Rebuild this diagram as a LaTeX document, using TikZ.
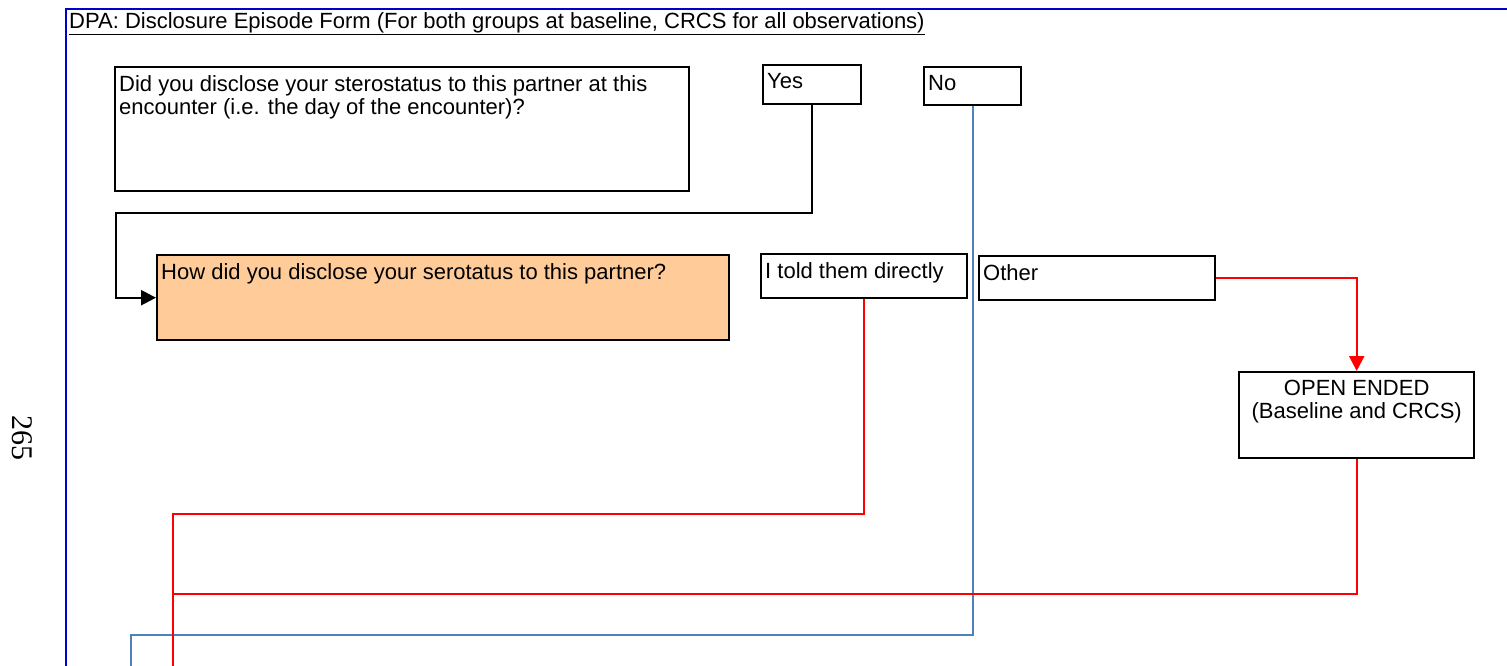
\documentclass[tikz,border=0pt]{standalone}
\usepackage{fontspec}
\setmainfont{Liberation Sans}
\newfontfamily\pagenumfont{Liberation Serif}
\usetikzlibrary{arrows.meta}
\definecolor{frameblue}{RGB}{0,0,204}
\definecolor{linkblue}{RGB}{79,129,189}
\definecolor{qorange}{RGB}{255,204,153}

\tikzset{
  formbox/.style={draw, line width=2.4pt, anchor=north west, inner sep=0pt},
  boxtext/.style={anchor=north west, align=left, inner xsep=5pt, inner ysep=9pt,
    font=\fontsize{22}{23}\selectfont},
  link/.style={line width=2.4pt},
}

\begin{document}
\begin{tikzpicture}[x=1pt, y=-1pt, >={Triangle[length=15pt,width=15pt]}]
\useasboundingbox (0,0) rectangle (1507,666);
\clip (0,0) rectangle (1507,666);

\draw [line width=2pt, frameblue] (66,670) |- (1510,9);

\node [anchor=north west, inner sep=0pt, font=\fontsize{22}{23}\selectfont] (title) at (69,12)
  {\underline{DPA: Disclosure Episode Form (For both groups at baseline, CRCS for all observations)}};

\node [rotate=-90, font=\pagenumfont\fontsize{30}{30}\selectfont] (pagenum) at (22,438) {265};

\foreach \n/\x/\y/\w/\h in {q1/114/66/574/124, yes/762/64/98/39, no/923/66/97/38,
                           told/760/253/206/44, other/978/255/236/44, open/1238/371/235/86}
  \node [formbox, minimum width=\w, minimum height=\h] (\n) at (\x,\y) {};

\node [formbox, fill=qorange, minimum width=572, minimum height=85] (q2) at (156,254) {};

\node [boxtext] (q1-text) at (q1.north west)
  {Did you disclose your sterostatus to this partner at this\\encounter (i.e. the day of the encounter)?};

\foreach \n/\l in {yes/Yes, no/No, q2/How did you disclose your serotatus to this partner?,
                   told/I told them directly, other/Other}
  \node [boxtext] (\n-text) at (\n.north west) {\l};

\node [boxtext, anchor=north, align=center] (open-text) at (open.north)
  {OPEN ENDED\\(Baseline and CRCS)};

\coordinate (no-end) at (131,670);
\coordinate (told-end) at (173,670);
\coordinate (open-end) at (173,670);

\draw [link, ->] (yes.south) |- (116,213) |- (q2.west);

\draw [link, linkblue] (no.south) |- (131,635) -- (no-end);

\draw [link, red, ->] (other.east) -| (open.north);
\draw [link, red] (told.south) |- (173,514) -- (told-end);
\draw [link, red] (open.south) |- (173,594) -- (open-end);

\end{tikzpicture}
\end{document}
